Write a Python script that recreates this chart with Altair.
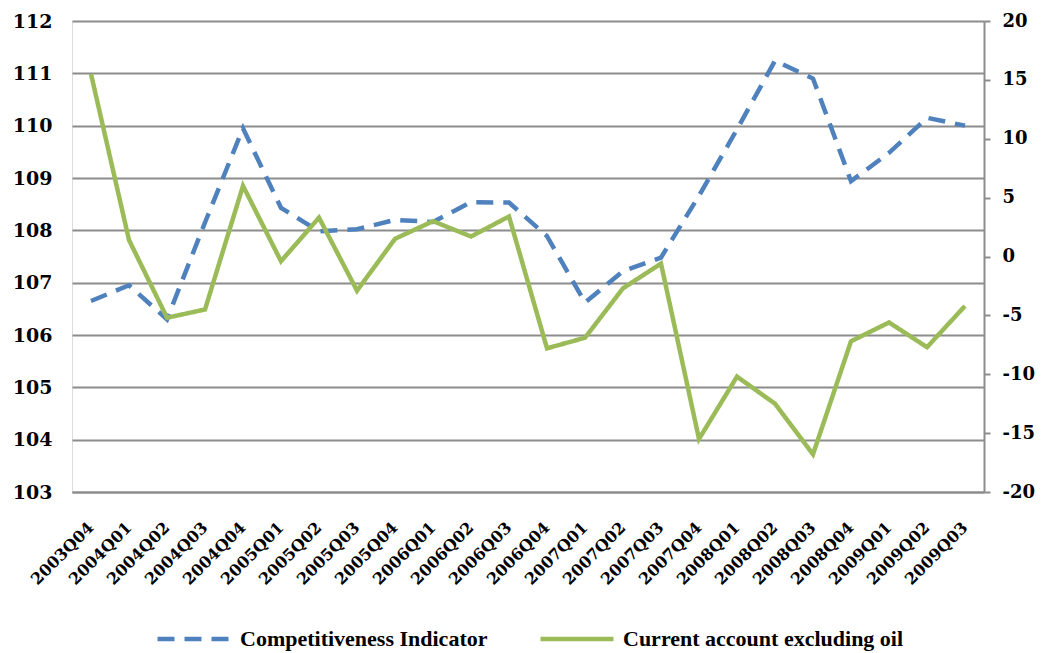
import altair as alt
import pandas as pd

quarters = ["2003Q04", "2004Q01", "2004Q02", "2004Q03", "2004Q04", "2005Q01",
            "2005Q02", "2005Q03", "2005Q04", "2006Q01", "2006Q02", "2006Q03",
            "2006Q04", "2007Q01", "2007Q02", "2007Q03", "2007Q04", "2008Q01",
            "2008Q02", "2008Q03", "2008Q04", "2009Q01", "2009Q02", "2009Q03"]

competitiveness = [106.65, 106.95, 106.3, 108.15, 109.95, 108.43, 107.98, 108.02,
                   108.2, 108.16, 108.54, 108.53, 107.89, 106.62, 107.22, 107.48,
                   108.66, 109.93, 111.24, 110.9, 108.94, 109.48, 110.15, 110.0]

current_account = [15.5, 1.4, -5.2, -4.5, 6.0, -0.4, 3.3, -2.9, 1.5, 3.0, 1.7, 3.4,
                   -7.8, -6.9, -2.7, -0.6, -15.5, -10.2, -12.5, -16.8, -7.2, -5.6,
                   -7.7, -4.2]

series_names = ["Competitiveness Indicator", "Current account excluding oil"]
series_colors = ["#4F81BD", "#9BBB59"]
series_dash = [[17, 10], [1, 0]]

left_ticks = list(range(103, 113))
right_ticks = list(range(-20, 25, 5))

df = pd.DataFrame({
    "quarter": quarters + quarters,
    "series": [series_names[0]] * len(quarters) + [series_names[1]] * len(quarters),
    "value": competitiveness + current_account,
})

AX_FONT = "DejaVu Serif"
GRID = "#8C8C8C"

legend = alt.Legend(
    title=None, orient="none", legendX=83, legendY=579, direction="horizontal",
    symbolType="stroke", symbolSize=5329, symbolStrokeWidth=4.5,
    labelFont="Liberation Serif", labelFontSize=22, labelFontWeight="bold",
    labelColor="#000000", labelOffset=7, columnPadding=43, labelLimit=600,
    padding=0,
)

base = alt.Chart(df).encode(
    x=alt.X("quarter:O", sort=quarters, title=None,
            axis=alt.Axis(labelAngle=-45, labelFont=AX_FONT, labelFontSize=16,
                          labelFontWeight="bold", labelColor="#000000",
                          ticks=False, tickSize=0, labelPadding=27, labelOffset=-6,
                          domainColor=GRID, domainWidth=2, grid=False)),
    color=alt.Color("series:N", scale=alt.Scale(domain=series_names, range=series_colors),
                    legend=legend),
    strokeDash=alt.StrokeDash("series:N", scale=alt.Scale(domain=series_names, range=series_dash),
                              legend=legend),
)

left = base.transform_filter(alt.datum.series == series_names[0]).mark_line(
    strokeWidth=4.5
).encode(
    y=alt.Y("value:Q", title=None,
            scale=alt.Scale(domain=[103, 112], nice=False, zero=False),
            axis=alt.Axis(orient="left", values=left_ticks, grid=True, gridColor=GRID,
                          gridWidth=1.8, gridOpacity=1, domain=False, ticks=False,
                          tickSize=0, labelPadding=20, labelFont=AX_FONT,
                          labelFontSize=19, labelFontWeight="bold", labelColor="#000000"))
)

right = base.transform_filter(alt.datum.series == series_names[1]).mark_line(
    strokeWidth=4.5
).encode(
    y=alt.Y("value:Q", title=None,
            scale=alt.Scale(domain=[-20, 20], nice=False, zero=False),
            axis=alt.Axis(orient="right", values=right_ticks, grid=False, domain=True,
                          domainColor=GRID, domainWidth=2, ticks=True, tickSize=6,
                          tickColor=GRID, tickWidth=2, labelPadding=12,
                          labelExpr="'' + datum.value", labelFont=AX_FONT,
                          labelFontSize=18, labelFontWeight="bold", labelColor="#000000"))
)

chart = alt.layer(left, right).resolve_scale(y="independent").properties(
    width=912, height=471, autosize="none",
    padding={"left": 64, "top": 13, "right": 52, "bottom": 161},
).configure_view(stroke=None).configure(background="#ffffff")

chart.save("out.html", embed_options={"renderer": "svg", "actions": False})
